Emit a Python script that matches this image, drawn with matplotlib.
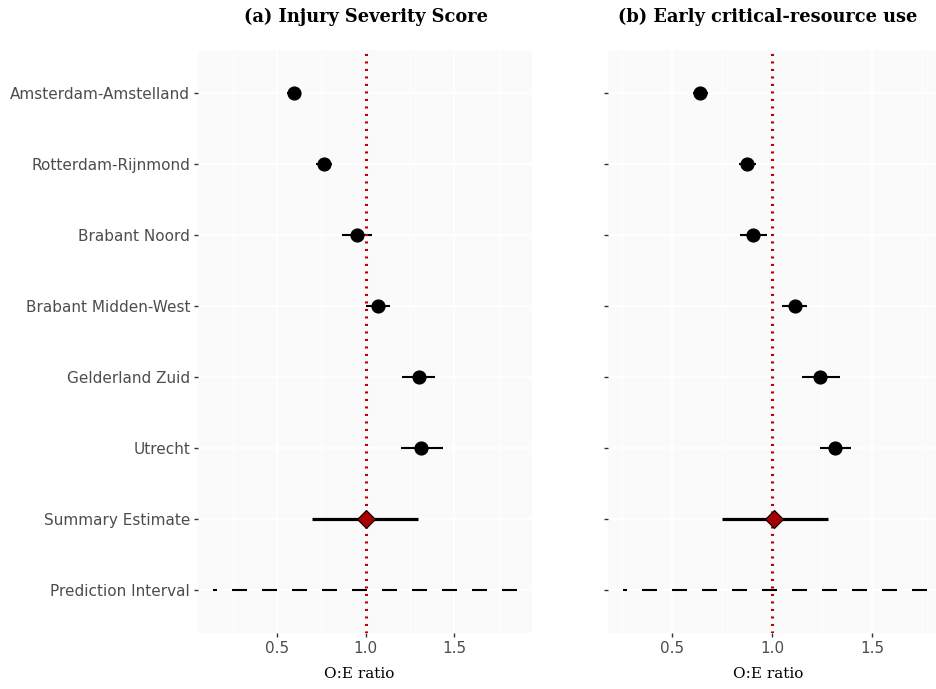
"""Forest plots of observed:expected ratios per trauma region."""

import numpy as np
import matplotlib.pyplot as plt

plt.rcParams['lines.scale_dashes'] = False

REGIONS = ["Amsterdam-Amstelland", "Rotterdam-Rijnmond", "Brabant Noord",
           "Brabant Midden-West", "Gelderland Zuid", "Utrecht"]
ROW_LABELS = REGIONS + ["Summary Estimate", "Prediction Interval"]

# (a) Injury Severity Score
ISS_EST = [0.595, 0.768, 0.951, 1.070, 1.300, 1.315]
ISS_LO = [0.555, 0.723, 0.868, 1.000, 1.207, 1.198]
ISS_HI = [0.635, 0.813, 1.038, 1.140, 1.390, 1.437]
ISS_SUMMARY = [1.0, 0.697, 1.296]   # estimate, lower, upper
ISS_PRED = [0.141, 1.853]           # lower, upper

# (b) Early critical-resource use
ECR_EST = [0.639, 0.875, 0.905, 1.115, 1.240, 1.314]
ECR_LO = [0.601, 0.833, 0.837, 1.050, 1.148, 1.237]
ECR_HI = [0.677, 0.917, 0.971, 1.175, 1.337, 1.394]
ECR_SUMMARY = [1.01, 0.746, 1.278]
ECR_PRED = [0.254, 1.773]

TITLES = ["(a) Injury Severity Score", "(b) Early critical-resource use"]
X_TICKS = [0.5, 1.0, 1.5]
X_MINOR = [0.25, 0.75, 1.25, 1.75]

W, H = 937, 689
fig = plt.figure(figsize=(W / 100, H / 100), dpi=100)


def px(x0, y0, x1, y1):
    """Pixel box (top-left origin) -> figure fraction rect."""
    return [x0 / W, 1 - y1 / H, (x1 - x0) / W, (y1 - y0) / H]


ax_a = fig.add_axes(px(198, 50, 532, 633))
ax_b = fig.add_axes(px(608, 50, 942, 633))

panels = [
    (ax_a, ISS_EST, ISS_LO, ISS_HI, ISS_SUMMARY, ISS_PRED, True),
    (ax_b, ECR_EST, ECR_LO, ECR_HI, ECR_SUMMARY, ECR_PRED, False),
]

rows = np.arange(len(ROW_LABELS))

for ax, est, lo, hi, summ, pred, show_labels in panels:
    ax.set_facecolor('#FAFAFA')
    for s in ax.spines.values():
        s.set_visible(False)

    # region estimates
    ax.hlines(rows[:6], lo, hi, color='black', linewidth=1.5, zorder=3)
    ax.plot(est, rows[:6], 'o', color='black', markersize=9.2, zorder=5)

    # summary estimate
    ax.hlines(rows[6], summ[1], summ[2], color='black', linewidth=2.3, zorder=3)
    ax.plot([summ[0]], [rows[6]], 'D', color='#A80000', markeredgecolor='black',
            markeredgewidth=0.8, markersize=9.0, zorder=6)

    # prediction interval (drawn from upper to lower so the dash pattern matches)
    ax.plot([pred[1], pred[0]], [rows[7], rows[7]], color='black', linewidth=1.5,
            linestyle=(0, (10.8, 10.8)), solid_capstyle='butt',
            dash_capstyle='butt', zorder=3)

    # reference line
    ax.axvline(1.0, color='#C00000', linewidth=2.2, linestyle=(0, (1.5, 3.9)),
               dash_capstyle='butt', zorder=4)

    span = pred[1] - pred[0]
    ax.set_xlim(pred[0] - 0.05 * span, pred[1] + 0.05 * span)
    ax.set_ylim(len(ROW_LABELS) - 0.4, -0.6)

    ax.set_xticks(X_TICKS)
    ax.set_xticklabels([f"{t:.1f}" for t in X_TICKS])
    ax.set_xticks(X_MINOR, minor=True)
    ax.set_yticks(rows)
    ax.set_yticklabels(ROW_LABELS if show_labels else [])

    ax.grid(True, which='major', color='white', linewidth=1.2, zorder=0)
    ax.grid(True, which='minor', axis='x', color='white', linewidth=0.6, zorder=0)
    ax.set_axisbelow(True)

    ax.tick_params(which='major', length=3.2, width=1.0, color='#333333',
                   labelcolor='#4D4D4D', labelsize=11, pad=2.5)
    ax.tick_params(which='minor', length=0)

    ax.set_xlabel("O:E ratio", family='DejaVu Serif', fontsize=11, color='black')

ax_a.xaxis.set_label_coords((359.5 - 198) / 334, -0.058)
ax_b.xaxis.set_label_coords((768 - 608) / 334, -0.058)
for ax in (ax_a, ax_b):
    ax.xaxis.label.set_va('top')

fig.text(366 / W, 1 - 17 / H, TITLES[0], family='DejaVu Serif', weight='bold',
         fontsize=12.8, ha='center', va='center')
fig.text(768 / W, 1 - 17 / H, TITLES[1], family='DejaVu Serif', weight='bold',
         fontsize=12.8, ha='center', va='center')

fig.savefig('out.png', dpi=100)
